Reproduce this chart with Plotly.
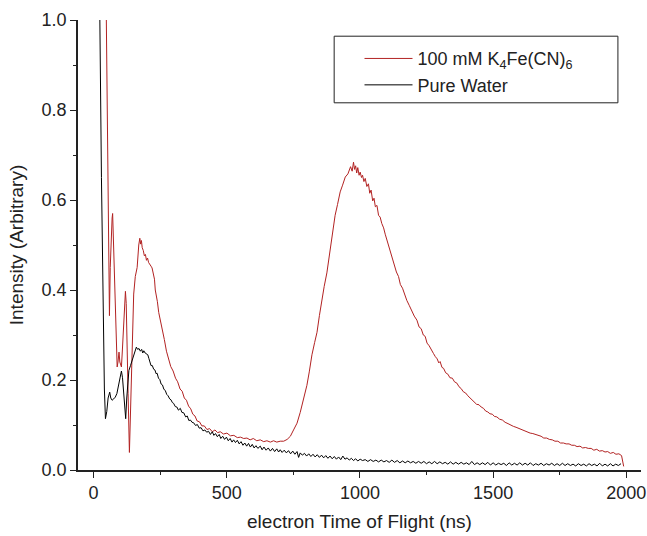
import plotly.graph_objects as go

# electron time of flight spectra
# 100 mM K4Fe(CN)6 solution
tof_fe = [48, 52, 56, 60, 63, 66, 70, 72, 75, 79, 84, 89, 92, 94, 96, 99, 102, 105, 108, 111,
          116, 120, 123, 126, 130, 135, 139, 143, 147, 151, 157, 164, 170, 174, 177, 180, 183,
          187, 191, 195, 199, 203, 207, 211, 216, 220, 224, 229, 232, 236, 240, 245, 251, 258,
          266, 274, 282, 290, 299, 308, 316, 325, 333, 341, 349, 357, 365, 373, 381, 389, 398,
          407, 416, 426, 436, 446, 456, 466, 476, 488, 501, 514, 527, 540, 552, 564, 576, 588,
          600, 613, 626, 639, 651, 664, 676, 688, 701, 714, 727, 739, 751, 764, 776, 789, 801,
          810, 820, 830, 839, 848, 857, 866, 876, 883, 889, 898, 907, 916, 926, 935, 945, 955,
          965, 971, 976, 980, 984, 988, 992, 997, 1001, 1006, 1010, 1015, 1020, 1026, 1032, 1037,
          1042, 1048, 1053, 1058, 1064, 1070, 1076, 1082, 1089, 1095, 1101, 1108, 1114, 1121,
          1129, 1137, 1145, 1152, 1160, 1168, 1176, 1185, 1195, 1204, 1214, 1222, 1230, 1238,
          1245, 1252, 1260, 1268, 1276, 1283, 1290, 1296, 1301, 1308, 1314, 1322, 1330, 1338,
          1347, 1355, 1364, 1372, 1380, 1388, 1397, 1405, 1414, 1422, 1430, 1438, 1447, 1455,
          1464, 1472, 1480, 1488, 1497, 1505, 1514, 1524, 1535, 1545, 1556, 1566, 1576, 1586,
          1597, 1607, 1618, 1628, 1639, 1649, 1660, 1670, 1680, 1690, 1701, 1711, 1722, 1732,
          1743, 1753, 1764, 1774, 1785, 1795, 1805, 1815, 1826, 1836, 1847, 1857, 1868, 1878,
          1889, 1899, 1910, 1920, 1930, 1940, 1951, 1961, 1972, 1982, 1990, 1997, 2000]
int_fe = [1.02, 0.80, 0.55, 0.343, 0.45, 0.52, 0.56, 0.57, 0.50, 0.41, 0.30, 0.229, 0.24, 0.26,
          0.262, 0.24, 0.232, 0.229, 0.26, 0.303, 0.37, 0.397, 0.37, 0.303, 0.17, 0.039, 0.12,
          0.229, 0.32, 0.391, 0.43, 0.45, 0.50, 0.515, 0.502, 0.51, 0.494, 0.488, 0.476, 0.479,
          0.466, 0.471, 0.461, 0.456, 0.453, 0.449, 0.438, 0.424, 0.40, 0.38, 0.374, 0.350,
          0.334, 0.308, 0.290, 0.264, 0.249, 0.230, 0.220, 0.204, 0.196, 0.180, 0.175, 0.160,
          0.155, 0.142, 0.136, 0.124, 0.120, 0.109, 0.107, 0.098, 0.098, 0.090, 0.092, 0.085,
          0.089, 0.083, 0.085, 0.080, 0.082, 0.076, 0.077, 0.072, 0.073, 0.070, 0.071, 0.067,
          0.070, 0.065, 0.067, 0.063, 0.065, 0.062, 0.065, 0.062, 0.064, 0.064, 0.068, 0.075,
          0.089, 0.104, 0.128, 0.158, 0.188, 0.218, 0.256, 0.283, 0.306, 0.343, 0.381, 0.408,
          0.438, 0.468, 0.499, 0.528, 0.566, 0.590, 0.618, 0.633, 0.651, 0.658, 0.674, 0.664,
          0.684, 0.668, 0.676, 0.660, 0.672, 0.655, 0.662, 0.650, 0.655, 0.641, 0.648, 0.630,
          0.636, 0.615, 0.622, 0.598, 0.604, 0.585, 0.588, 0.566, 0.562, 0.548, 0.538, 0.524,
          0.512, 0.499, 0.485, 0.470, 0.457, 0.440, 0.430, 0.412, 0.404, 0.388, 0.377, 0.366,
          0.353, 0.342, 0.333, 0.318, 0.314, 0.300, 0.297, 0.282, 0.276, 0.266, 0.259, 0.252,
          0.247, 0.238, 0.241, 0.228, 0.226, 0.216, 0.213, 0.205, 0.204, 0.196, 0.193, 0.185,
          0.181, 0.174, 0.171, 0.165, 0.160, 0.156, 0.152, 0.146, 0.145, 0.140, 0.137, 0.131,
          0.129, 0.125, 0.124, 0.119, 0.118, 0.113, 0.111, 0.106, 0.103, 0.099, 0.097, 0.095,
          0.092, 0.090, 0.087, 0.085, 0.082, 0.081, 0.079, 0.076, 0.075, 0.071, 0.071, 0.068,
          0.067, 0.064, 0.064, 0.060, 0.060, 0.058, 0.058, 0.055, 0.055, 0.052, 0.053, 0.049,
          0.050, 0.048, 0.048, 0.044, 0.046, 0.042, 0.043, 0.040, 0.041, 0.037, 0.039, 0.035,
          0.036, 0.032, 0.008]

# pure water
tof_w = [22, 24, 30, 36, 41, 45, 50, 55, 61, 65, 70, 76, 82, 88, 94, 100, 105, 109, 113, 117,
         121, 125, 129, 133, 139, 145, 152, 157, 161, 166, 171, 176, 181, 185, 189, 194, 199,
         204, 208, 212, 216, 221, 226, 231, 235, 239, 244, 249, 254, 259, 264, 270, 275, 280,
         286, 291, 296, 301, 307, 313, 319, 326, 332, 339, 346, 352, 358, 364, 370, 376, 383,
         390, 397, 404, 411, 418, 425, 432, 439, 446, 452, 458, 465, 472, 478, 485, 492, 499,
         506, 513, 520, 526, 533, 540, 547, 554, 561, 568, 575, 582, 589, 596, 603, 610, 617,
         626, 633, 640, 648, 656, 664, 672, 680, 688, 695, 701, 708, 716, 724, 732, 740, 748,
         756, 764, 770, 776, 784, 792, 800, 808, 816, 824, 832, 840, 848, 856, 864, 872, 880,
         888, 896, 904, 912, 920, 928, 936, 944, 952, 960, 968, 976, 984, 992, 1001, 1010,
         1020, 1030, 1040, 1050, 1060, 1070, 1080, 1090, 1100, 1110, 1120, 1130, 1140, 1150,
         1160, 1170, 1180, 1190, 1200, 1210, 1220, 1230, 1240, 1250, 1260, 1270, 1280, 1290,
         1300, 1310, 1320, 1330, 1340, 1350, 1360, 1370, 1380, 1390, 1400, 1410, 1420, 1430,
         1440, 1450, 1460, 1470, 1480, 1490, 1500, 1510, 1520, 1530, 1540, 1550, 1560, 1570,
         1580, 1590, 1600, 1610, 1620, 1630, 1640, 1650, 1660, 1670, 1680, 1690, 1700, 1710,
         1720, 1730, 1740, 1750, 1760, 1770, 1780, 1790, 1800, 1810, 1820, 1830, 1840, 1850,
         1860, 1870, 1880, 1890, 1900, 1910, 1920, 1930, 1940, 1950, 1960, 1970, 1980, 1990,
         2000]
int_w = [1.05, 1.0, 0.65, 0.35, 0.18, 0.114, 0.13, 0.16, 0.173, 0.16, 0.155, 0.158, 0.162,
         0.17, 0.19, 0.21, 0.22, 0.205, 0.17, 0.13, 0.114, 0.16, 0.205, 0.221, 0.232, 0.243,
         0.255, 0.268, 0.273, 0.268, 0.270, 0.264, 0.268, 0.260, 0.265, 0.260, 0.258, 0.256,
         0.248, 0.240, 0.232, 0.232, 0.224, 0.222, 0.214, 0.215, 0.204, 0.201, 0.191, 0.189,
         0.180, 0.176, 0.168, 0.165, 0.158, 0.156, 0.150, 0.148, 0.141, 0.140, 0.133, 0.137,
         0.128, 0.127, 0.118, 0.120, 0.110, 0.111, 0.106, 0.105, 0.099, 0.101, 0.093, 0.094,
         0.087, 0.089, 0.084, 0.086, 0.079, 0.085, 0.077, 0.081, 0.074, 0.079, 0.070, 0.075,
         0.068, 0.073, 0.065, 0.070, 0.062, 0.067, 0.061, 0.066, 0.058, 0.063, 0.055, 0.060,
         0.053, 0.059, 0.051, 0.057, 0.049, 0.054, 0.048, 0.053, 0.045, 0.051, 0.044, 0.049,
         0.042, 0.048, 0.041, 0.047, 0.040, 0.045, 0.039, 0.044, 0.038, 0.043, 0.036, 0.042,
         0.035, 0.041, 0.028, 0.038, 0.033, 0.037, 0.031, 0.036, 0.030, 0.035, 0.029, 0.034,
         0.028, 0.033, 0.027, 0.032, 0.026, 0.031, 0.025, 0.030, 0.024, 0.029, 0.023, 0.031,
         0.024, 0.027, 0.022, 0.026, 0.021, 0.025, 0.020, 0.024, 0.021, 0.023, 0.019, 0.023,
         0.019, 0.022, 0.018, 0.022, 0.018, 0.021, 0.017, 0.022, 0.017, 0.021, 0.016, 0.020,
         0.016, 0.020, 0.016, 0.019, 0.015, 0.019, 0.015, 0.019, 0.014, 0.018, 0.014, 0.019,
         0.014, 0.018, 0.014, 0.017, 0.013, 0.018, 0.013, 0.017, 0.013, 0.017, 0.013, 0.016,
         0.012, 0.019, 0.012, 0.016, 0.012, 0.016, 0.012, 0.017, 0.011, 0.016, 0.011, 0.015,
         0.012, 0.015, 0.010, 0.016, 0.011, 0.015, 0.011, 0.016, 0.011, 0.015, 0.011, 0.016,
         0.010, 0.014, 0.011, 0.015, 0.010, 0.014, 0.011, 0.015, 0.010, 0.014, 0.010, 0.015,
         0.010, 0.014, 0.010, 0.013, 0.009, 0.014, 0.010, 0.013, 0.009, 0.014, 0.010, 0.013,
         0.009, 0.015, 0.009, 0.013, 0.009, 0.014, 0.009, 0.013, 0.010, 0.014]

x_ticks = [0, 500, 1000, 1500, 2000]
y_ticks = [0.0, 0.2, 0.4, 0.6, 0.8, 1.0]

font = "Liberation Sans, Arial, sans-serif"

fig = go.Figure()
fig.add_trace(go.Scatter(x=tof_fe, y=int_fe, mode="lines",
                         name="100 mM K<sub>4</sub>Fe(CN)<sub>6</sub>",
                         line=dict(color="#b22222", width=1)))
fig.add_trace(go.Scatter(x=tof_w, y=int_w, mode="lines", name="Pure Water",
                         line=dict(color="black", width=1)))

axis_common = dict(showline=True, linecolor="#222", linewidth=1.5, ticks="outside",
                   ticklen=6, tickwidth=1.2, tickcolor="#222", showgrid=False,
                   zeroline=False, mirror=False, automargin=False,
                   tickfont=dict(family=font, size=18, color="#222"))

fig.update_xaxes(range=[-58, 2055], tickvals=x_ticks,
                 minor=dict(dtick=250, tick0=0, ticks="outside", ticklen=3, tickcolor="#222"),
                 title=dict(text="electron Time of Flight (ns)", standoff=12,
                            font=dict(family=font, size=19, color="#222")),
                 **axis_common)
fig.update_yaxes(range=[0, 1.0], tickvals=y_ticks, tickformat=".1f",
                 minor=dict(dtick=0.1, tick0=0, ticks="outside", ticklen=3, tickcolor="#222"),
                 title=dict(text="Intensity (Arbitrary)", standoff=13,
                            font=dict(family=font, size=19, color="#222")),
                 **axis_common)

# legend frame
fig.add_shape(type="rect", xref="paper", yref="paper", x0=0.455, x1=0.959, y0=0.816, y1=0.964,
              line=dict(color="#222", width=1), fillcolor="white", layer="below")

fig.update_layout(
    width=647, height=536,
    margin=dict(l=78, r=6, t=20, b=66),
    plot_bgcolor="white", paper_bgcolor="white",
    font=dict(family=font, size=18, color="#222"),
    legend=dict(x=0.50, y=0.955, xanchor="left", yanchor="top", bgcolor="rgba(0,0,0,0)",
                borderwidth=0, itemwidth=48, tracegroupgap=0,
                font=dict(family=font, size=18, color="#222")),
)

# drop the default page margin so the figure sits at the window's top-left corner
fig.write_html("out.html", config={"displayModeBar": False},
               post_script="document.body.style.margin='0';")
